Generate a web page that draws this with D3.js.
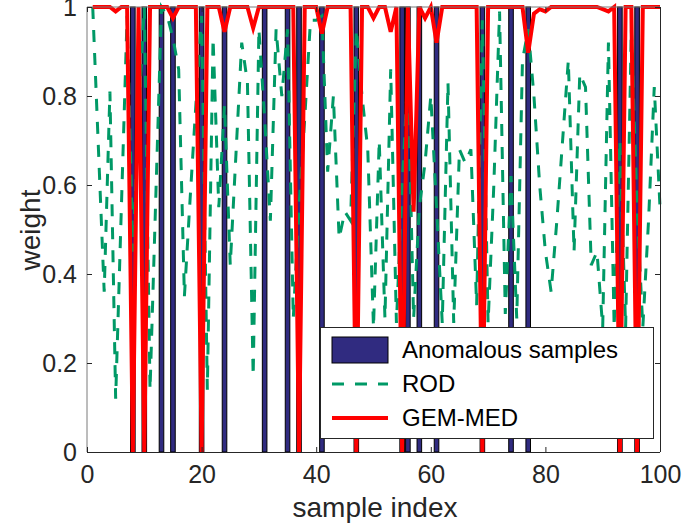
<!DOCTYPE html>
<html><head><meta charset="utf-8">
<script src="https://cdn.jsdelivr.net/npm/d3@7"></script>
<style>body{margin:0;background:#fff}svg{display:block}</style>
</head><body><svg id="c" width="683" height="529"></svg>
<script>
// ---- data ----
const anomalyIndex = [8,10,13,15,20,24,31,35,37,41,47,55,56,58,61,69,74,77,93,96];
const sampleIndex = d3.range(1, 101);
const rodWeight = [
  1.00,0.68,0.36,0.81,0.12,0.55,0.98,0.45,0.75,1.00,
  0.14,0.57,1.00,0.98,0.93,0.86,0.35,0.57,0.78,0.98,
  0.14,0.93,0.55,0.78,0.42,0.67,0.92,0.83,0.17,0.95,
  0.75,0.52,0.95,0.80,0.95,0.30,0.55,0.75,0.97,0.97,
  0.98,0.63,0.80,0.48,0.54,0.52,0.95,0.80,0.68,0.28,
  0.70,0.30,0.86,0.29,0.60,0.85,0.30,0.55,0.65,0.80,
  0.55,0.29,0.83,0.29,0.68,0.65,0.68,0.33,0.97,0.29,
  0.60,0.99,0.31,0.62,0.30,0.88,0.95,0.80,0.60,0.45,
  0.36,0.52,0.70,0.88,0.45,0.85,0.82,0.42,0.45,0.28,
  0.92,0.28,0.70,0.28,0.95,0.55,0.28,0.52,0.82,0.55
];
const gemWeight = [
  1,1,1,1,0.99,1,1,0,1,0,
  1,1,1,1,0.975,1,1,1,1,0,
  1,1,1,0.944,1,1,1,1,0.953,1,
  1,1,1,1,1,1,0,1,1,1,
  0.94,1,1,1,1,1,0,1,1,0.975,
  1,1,0.944,1,0,1,0.54,1,0.975,1,
  0.92,1,1,1,1,1,1,1,0,1,
  1,1,1,1,1,1,0.897,0.985,0.995,0.99,
  1,1,1,1,1,1,1,1,1,0.995,
  0.99,1,0,1,1,0,1,1,1,1
];
const xTicks = [0,20,40,60,80,100];
const yTicks = [0,0.2,0.4,0.6,0.8,1];
const legendLabels = ["Anomalous samples","ROD","GEM-MED"];
const xLabel = "sample index", yLabel = "weight";

// ---- style ----
const FONT = "'Liberation Sans', Arial, Helvetica, sans-serif";
const AX = "#262626";
const BAR = "#302b80", ROD = "#009966", GEM = "#ff0000";

const svg = d3.select("#c");
const x = d3.scaleLinear().domain([0,100]).range([87,660]);
const y = d3.scaleLinear().domain([0,1]).range([452,7]);

// bars
const bw = x(0.8) - x(0);
svg.append("g").selectAll("rect").data(anomalyIndex).join("rect")
  .attr("x", d => x(d) - bw/2).attr("width", bw)
  .attr("y", y(1)).attr("height", y(0) - y(1))
  .attr("fill", BAR).attr("stroke", "#000").attr("stroke-width", 1);

// lines
const line = d3.line().x((d,i) => x(sampleIndex[i])).y(d => y(d));
svg.append("path").datum(rodWeight).attr("d", line)
  .attr("fill","none").attr("stroke", ROD).attr("stroke-width", 3)
  .attr("stroke-dasharray","12,11");
svg.append("path").datum(gemWeight).attr("d", line)
  .attr("fill","none").attr("stroke", GEM).attr("stroke-width", 4)
  .attr("stroke-linejoin","miter");

// axes box
const g = svg.append("g");
g.append("line").attr("x1",x(0)).attr("x2",x(100)).attr("y1",y(0)+0.5).attr("y2",y(0)+0.5).attr("stroke",AX);
g.append("line").attr("x1",x(100)+0.5).attr("x2",x(100)+0.5).attr("y1",y(0)).attr("y2",y(1)).attr("stroke",AX);
g.append("line").attr("x1",x(0)).attr("x2",x(0)).attr("y1",y(0)).attr("y2",y(1)).attr("stroke","#7a7a7a");
g.append("line").attr("x1",x(0)).attr("x2",x(100)).attr("y1",y(1)).attr("y2",y(1)).attr("stroke","#7a7a7a");

// ticks via d3 axes
const xAxisB = d3.axisBottom(x).tickValues(xTicks).tickSizeInner(-5).tickSizeOuter(0).tickPadding(13).tickFormat(d3.format("d"));
const gx = svg.append("g").attr("transform",`translate(0,${y(0)})`).call(xAxisB);
gx.select(".domain").remove();
gx.selectAll("line").attr("stroke",AX);
gx.selectAll("text").attr("font-family",FONT).attr("font-size",25).attr("fill",AX);

const xAxisT = d3.axisTop(x).tickValues(xTicks).tickSizeInner(-5).tickSizeOuter(0).tickFormat("");
const gxt = svg.append("g").attr("transform",`translate(0,${y(1)})`).call(xAxisT);
gxt.select(".domain").remove(); gxt.selectAll("line").attr("stroke",AX);

const yAxisL = d3.axisLeft(y).tickValues(yTicks).tickSizeInner(-5).tickSizeOuter(0).tickPadding(10).tickFormat(d => d3.format("~g")(d));
const gy = svg.append("g").attr("transform",`translate(${x(0)},0)`).call(yAxisL);
gy.select(".domain").remove();
gy.selectAll("line").attr("stroke",AX);
gy.selectAll("text").attr("font-family",FONT).attr("font-size",25).attr("fill",AX);

const yAxisR = d3.axisRight(y).tickValues(yTicks).tickSizeInner(-5).tickSizeOuter(0).tickFormat("");
const gyr = svg.append("g").attr("transform",`translate(${x(100)},0)`).call(yAxisR);
gyr.select(".domain").remove(); gyr.selectAll("line").attr("stroke",AX);

// axis labels
svg.append("text").attr("x",375).attr("y",517).attr("text-anchor","middle")
  .attr("font-family",FONT).attr("font-size",28).attr("fill",AX).text(xLabel);
svg.append("text").attr("transform","translate(40,230) rotate(-90)").attr("text-anchor","middle")
  .attr("font-family",FONT).attr("font-size",28).attr("fill",AX).text(yLabel);

// legend
const lg = svg.append("g");
lg.append("rect").attr("x",320.5).attr("y",327.5).attr("width",333).attr("height",111)
  .attr("fill","#fff").attr("stroke",AX);
lg.append("rect").attr("x",332).attr("y",337).attr("width",56).attr("height",26)
  .attr("fill",BAR).attr("stroke","#000");
lg.append("line").attr("x1",332).attr("x2",388).attr("y1",384).attr("y2",384)
  .attr("stroke",ROD).attr("stroke-width",3).attr("stroke-dasharray","12,11");
lg.append("line").attr("x1",332).attr("x2",388).attr("y1",418).attr("y2",418)
  .attr("stroke",GEM).attr("stroke-width",4);
const ly = [350, 384, 418];
lg.selectAll("text.l").data(legendLabels).join("text").attr("class","l")
  .attr("x",402).attr("y",(d,i)=>ly[i]).attr("dy","0.35em")
  .attr("font-family",FONT).attr("font-size",24).attr("fill","#000").text(d=>d);
</script></body></html>
